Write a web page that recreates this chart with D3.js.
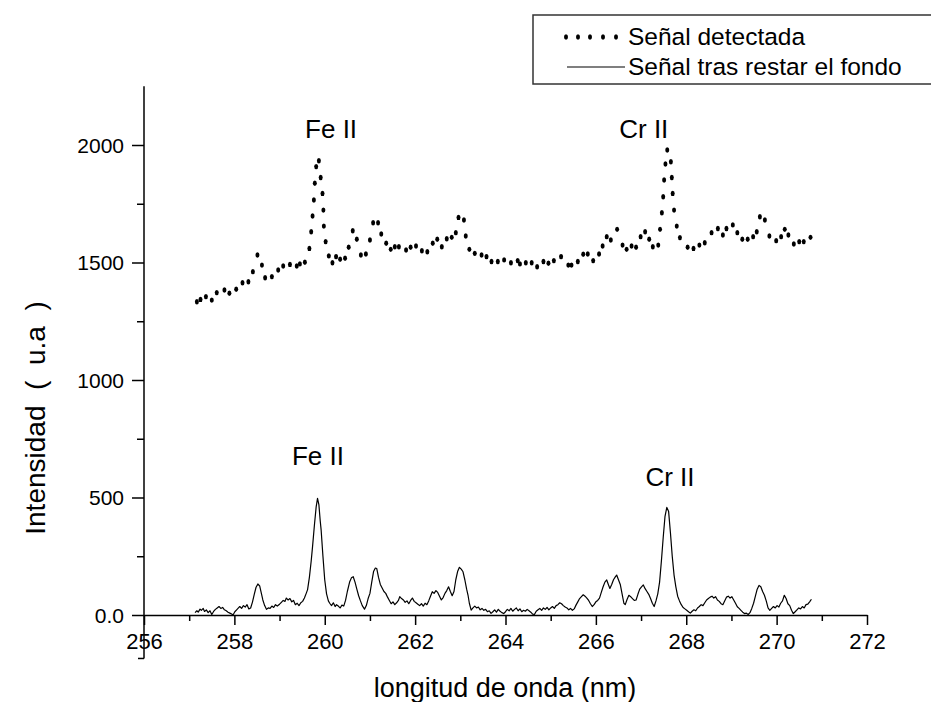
<!DOCTYPE html>
<html><head><meta charset="utf-8">
<script src="https://cdn.jsdelivr.net/npm/d3@7"></script>
<style>
body{margin:0;background:#fff}
svg{display:block}
text{font-family:"Liberation Sans",Arial,Helvetica,sans-serif;fill:#000;white-space:pre}
</style>
</head><body>
<svg id="chart" width="931" height="702"></svg>
<script>
// ---------- DATA ----------
const xTickValues = [256,258,260,262,264,266,268,270,272];
const xMinorTicks = [257,259,261,263,265,267,269,271];
const yTickValues = [0,500,1000,1500,2000];
const yMinorTicks = [250,750,1250,1750];
const yTickLabels = ["0.0","500","1000","1500","2000"];

const seriesNames = ["Señal detectada","Señal tras restar el fondo"];

// Señal detectada: [wavelength nm, intensity]
const detected = [
[257.17,1333],[257.25,1343],[257.37,1355],[257.50,1340],[257.61,1372],[257.78,1383],[257.89,1369],
[258.04,1386],[258.18,1414],[258.31,1418],[258.41,1461],[258.51,1532],[258.61,1489],[258.68,1435],
[258.83,1440],[258.97,1468],[259.08,1485],[259.23,1492],[259.38,1485],[259.45,1494],[259.56,1501],
[259.66,1560],[259.70,1631],[259.73,1698],[259.76,1766],[259.78,1837],[259.81,1908],[259.87,1933],
[259.91,1862],[259.95,1794],[259.97,1723],[259.98,1655],[260.02,1589],[260.09,1528],[260.17,1499],
[260.25,1525],[260.34,1514],[260.45,1518],[260.53,1565],[260.62,1635],[260.71,1599],[260.80,1532],
[260.91,1536],[261.00,1596],[261.07,1669],[261.18,1669],[261.25,1621],[261.36,1582],[261.46,1556],
[261.55,1567],[261.64,1567],[261.80,1553],[261.90,1565],[262.02,1570],[262.15,1550],[262.27,1546],
[262.39,1582],[262.49,1599],[262.59,1567],[262.70,1601],[262.81,1607],[262.90,1627],[262.96,1692],
[263.08,1681],[263.12,1613],[263.20,1556],[263.32,1539],[263.47,1532],[263.58,1525],[263.69,1504],
[263.83,1504],[263.97,1511],[264.12,1499],[264.27,1508],[264.32,1494],[264.45,1499],[264.58,1499],
[264.70,1482],[264.84,1504],[264.95,1497],[265.07,1508],[265.23,1525],[265.39,1489],[265.46,1489],
[265.60,1504],[265.72,1535],[265.82,1536],[265.94,1508],[266.07,1536],[266.15,1570],[266.24,1610],
[266.33,1596],[266.47,1641],[266.59,1574],[266.68,1556],[266.79,1570],[266.89,1565],[266.99,1610],
[267.09,1631],[267.18,1599],[267.26,1567],[267.38,1574],[267.42,1641],[267.46,1712],[267.49,1780],
[267.51,1851],[267.54,1919],[267.58,1979],[267.66,1929],[267.68,1862],[267.70,1794],[267.73,1723],
[267.79,1655],[267.86,1606],[268.03,1565],[268.16,1560],[268.29,1574],[268.41,1584],[268.56,1627],
[268.70,1645],[268.81,1617],[268.89,1645],[269.03,1660],[269.13,1627],[269.24,1599],[269.36,1599],
[269.48,1610],[269.56,1631],[269.63,1695],[269.74,1681],[269.84,1613],[269.99,1593],[270.10,1610],
[270.18,1641],[270.26,1617],[270.38,1579],[270.50,1589],[270.60,1589],[270.75,1607]
];

// Señal tras restar el fondo: [wavelength nm, intensity]
const corrected = [
[257.13,10],[257.17,18],[257.20,12],[257.24,25],[257.27,20],[257.31,28],[257.34,15],[257.38,22],
[257.42,10],[257.46,18],[257.50,2],[257.54,15],[257.58,24],[257.62,30],[257.66,36],[257.70,28],
[257.74,32],[257.78,22],[257.82,18],[257.86,12],[257.90,8],[257.94,4],[257.97,0],[258.01,14],
[258.05,22],[258.09,30],[258.12,36],[258.16,28],[258.20,40],[258.24,34],[258.28,44],[258.32,26],
[258.36,30],[258.40,55],[258.44,88],[258.48,118],[258.52,132],[258.56,124],[258.60,90],[258.63,64],
[258.67,40],[258.71,24],[258.75,30],[258.79,28],[258.83,38],[258.87,32],[258.91,44],[258.95,38],
[259.00,46],[259.04,54],[259.08,62],[259.12,58],[259.15,72],[259.19,64],[259.23,70],[259.27,56],
[259.31,62],[259.35,44],[259.39,50],[259.43,40],[259.47,52],[259.51,58],[259.55,72],[259.59,92],
[259.62,108],[259.66,160],[259.70,230],[259.73,291],[259.77,380],[259.81,460],[259.84,496],[259.87,470],
[259.90,400],[259.92,362],[259.96,250],[260.00,149],[260.04,90],[260.08,60],[260.11,50],[260.15,40],
[260.19,52],[260.23,36],[260.26,44],[260.30,38],[260.34,30],[260.38,42],[260.42,38],[260.46,62],
[260.50,100],[260.55,140],[260.59,158],[260.63,163],[260.67,140],[260.71,110],[260.75,82],[260.79,60],
[260.83,40],[260.88,25],[260.92,40],[260.96,70],[261.00,92],[261.04,140],[261.08,185],[261.12,200],
[261.15,198],[261.19,160],[261.23,130],[261.27,115],[261.31,100],[261.35,92],[261.39,76],[261.43,62],
[261.47,48],[261.51,56],[261.55,44],[261.59,52],[261.63,62],[261.66,78],[261.70,70],[261.74,64],
[261.78,54],[261.82,60],[261.86,48],[261.90,62],[261.94,72],[261.98,58],[262.02,52],[262.06,46],
[262.10,40],[262.14,48],[262.18,38],[262.22,50],[262.26,44],[262.30,60],[262.34,80],[262.38,99],
[262.42,92],[262.46,104],[262.50,96],[262.54,80],[262.58,64],[262.62,74],[262.66,92],[262.70,104],
[262.74,120],[262.78,100],[262.82,82],[262.86,100],[262.90,150],[262.94,185],[262.98,203],[263.02,195],
[263.06,184],[263.10,150],[263.14,110],[263.17,85],[263.20,50],[263.24,21],[263.28,30],[263.32,38],
[263.36,30],[263.40,34],[263.44,22],[263.48,28],[263.52,20],[263.56,24],[263.60,14],[263.64,18],
[263.68,7],[263.72,14],[263.76,22],[263.80,12],[263.84,24],[263.88,16],[263.92,10],[263.96,6],
[264.00,14],[264.04,24],[264.08,18],[264.12,28],[264.16,16],[264.20,24],[264.24,30],[264.28,18],
[264.32,26],[264.36,14],[264.40,20],[264.44,16],[264.48,24],[264.52,18],[264.56,12],[264.60,4],
[264.64,2],[264.68,16],[264.72,22],[264.76,28],[264.80,20],[264.84,30],[264.88,24],[264.92,32],
[264.96,22],[265.00,30],[265.04,36],[265.08,28],[265.12,40],[265.16,44],[265.20,52],[265.24,48],
[265.28,40],[265.32,34],[265.36,30],[265.40,22],[265.44,28],[265.48,20],[265.52,26],[265.56,42],
[265.60,56],[265.64,70],[265.68,78],[265.72,86],[265.76,80],[265.80,72],[265.84,62],[265.88,48],
[265.92,36],[265.96,44],[266.00,56],[266.04,62],[266.08,72],[266.12,96],[266.16,120],[266.20,140],
[266.24,149],[266.28,128],[266.31,113],[266.35,130],[266.39,150],[266.43,162],[266.46,170],[266.50,150],
[266.54,130],[266.58,90],[266.62,50],[266.65,44],[266.69,66],[266.73,84],[266.77,78],[266.81,70],
[266.85,62],[266.89,64],[266.93,88],[266.97,110],[267.01,120],[267.05,128],[267.09,112],[267.13,100],
[267.17,88],[267.21,70],[267.25,50],[267.29,36],[267.33,60],[267.37,90],[267.41,140],[267.45,230],
[267.49,330],[267.53,420],[267.57,458],[267.61,440],[267.65,350],[267.69,250],[267.73,170],[267.77,120],
[267.81,80],[267.85,60],[267.89,44],[267.93,32],[267.97,26],[268.01,20],[268.05,14],[268.09,8],
[268.13,16],[268.17,22],[268.21,18],[268.25,30],[268.29,36],[268.33,44],[268.37,40],[268.41,52],
[268.45,64],[268.49,70],[268.53,76],[268.57,80],[268.61,72],[268.65,78],[268.69,64],[268.73,58],
[268.77,48],[268.81,44],[268.85,60],[268.89,76],[268.93,80],[268.97,72],[269.01,78],[269.05,64],
[269.09,50],[269.13,35],[269.17,28],[269.21,20],[269.25,12],[269.29,6],[269.33,8],[269.37,2],
[269.41,10],[269.45,28],[269.49,50],[269.53,80],[269.57,110],[269.61,126],[269.65,120],[269.69,100],
[269.73,84],[269.77,60],[269.81,30],[269.85,20],[269.89,28],[269.93,36],[269.97,30],[270.01,40],
[270.05,34],[270.09,50],[270.13,60],[270.17,84],[270.21,70],[270.25,48],[270.29,40],[270.33,20],
[270.37,6],[270.41,14],[270.45,22],[270.49,30],[270.53,26],[270.57,36],[270.61,30],[270.65,44],
[270.69,46],[270.73,56],[270.77,67]
];

// peak annotations: [label, wavelength, intensity]
const annotations = [
["Fe II",260.14,2030],["Cr II",267.06,2030],["Fe II",259.85,638],["Cr II",267.64,549]
];

// ---------- CHART ----------
const svg = d3.select("#chart");
const x = d3.scaleLinear().domain([256,272]).range([144,867]);
const y = d3.scaleLinear().domain([0,2250]).range([615,86.25]);
const yBottom = -185;

// y axis
const gy = svg.append("g").attr("transform",`translate(${x(256)},0)`);
gy.call(d3.axisLeft(y).tickValues(yTickValues).tickSize(12).tickSizeOuter(0).tickPadding(8)
  .tickFormat((d,i)=>yTickLabels[i]));
gy.select(".domain").remove();
gy.append("g").call(d3.axisLeft(y).tickValues(yMinorTicks).tickSize(7).tickFormat("")).select(".domain").remove();
gy.append("line").attr("x1",0).attr("x2",0).attr("y1",y(2250)).attr("y2",y(yBottom))
  .attr("stroke","#000").attr("stroke-width",1.5);
gy.append("line").attr("x1",-6).attr("x2",0).attr("y1",y(yBottom)).attr("y2",y(yBottom))
  .attr("stroke","#000").attr("stroke-width",1.5);

// x axis
const gx = svg.append("g").attr("transform",`translate(0,${y(0)})`);
gx.call(d3.axisBottom(x).tickValues(xTickValues).tickSize(10).tickSizeOuter(0).tickPadding(8)
  .tickFormat(d3.format("d")));
gx.select(".domain").attr("stroke-width",1.5);
gx.append("g").call(d3.axisBottom(x).tickValues(xMinorTicks).tickSize(6).tickFormat("")).select(".domain").remove();

svg.selectAll(".tick line").attr("stroke","#000").attr("stroke-width",1.5);
gy.selectAll(".tick text").style("font-size","21px").attr("fill","#000").attr("dy","0.35em");
gx.selectAll(".tick text").style("font-size","22px").attr("fill","#000");

// corrected signal (solid)
svg.append("path").datum(corrected)
  .attr("fill","none").attr("stroke","#000").attr("stroke-width",1.2).attr("stroke-linejoin","round")
  .attr("d", d3.line().x(d=>x(d[0])).y(d=>y(d[1])));

// detected signal (dots)
svg.append("g").selectAll("ellipse").data(detected).join("ellipse")
  .attr("cx",d=>x(d[0])).attr("cy",d=>y(d[1])).attr("rx",2).attr("ry",2.7).attr("fill","#000");

// annotations
svg.append("g").selectAll("text").data(annotations).join("text")
  .attr("x",d=>x(d[1])).attr("y",d=>y(d[2])).attr("text-anchor","middle")
  .style("font-size","26px").text(d=>d[0]);

// axis titles
svg.append("text").attr("x",505).attr("y",697).attr("text-anchor","middle")
  .style("font-size","27px").text("longitud de onda (nm)");
svg.append("text").attr("transform","translate(45,418) rotate(-90)").attr("text-anchor","middle")
  .style("font-size","28px").text("Intensidad  (  u.a  )");

// legend
const lg = svg.append("g");
lg.append("rect").attr("x",533).attr("y",15).attr("width",410).attr("height",69)
  .attr("fill","none").attr("stroke","#333").attr("stroke-width",1.5);
[566,578,590,603,616].forEach(cx=>lg.append("ellipse").attr("cx",cx).attr("cy",37).attr("rx",2).attr("ry",2.7).attr("fill","#000"));
lg.append("line").attr("x1",567).attr("x2",625).attr("y1",67).attr("y2",67).attr("stroke","#000").attr("stroke-width",1.2);
lg.append("text").attr("x",628).attr("y",45).style("font-size","24.5px").text(seriesNames[0]);
lg.append("text").attr("x",628).attr("y",75).style("font-size","24.5px").text(seriesNames[1]);
</script>
</body></html>
